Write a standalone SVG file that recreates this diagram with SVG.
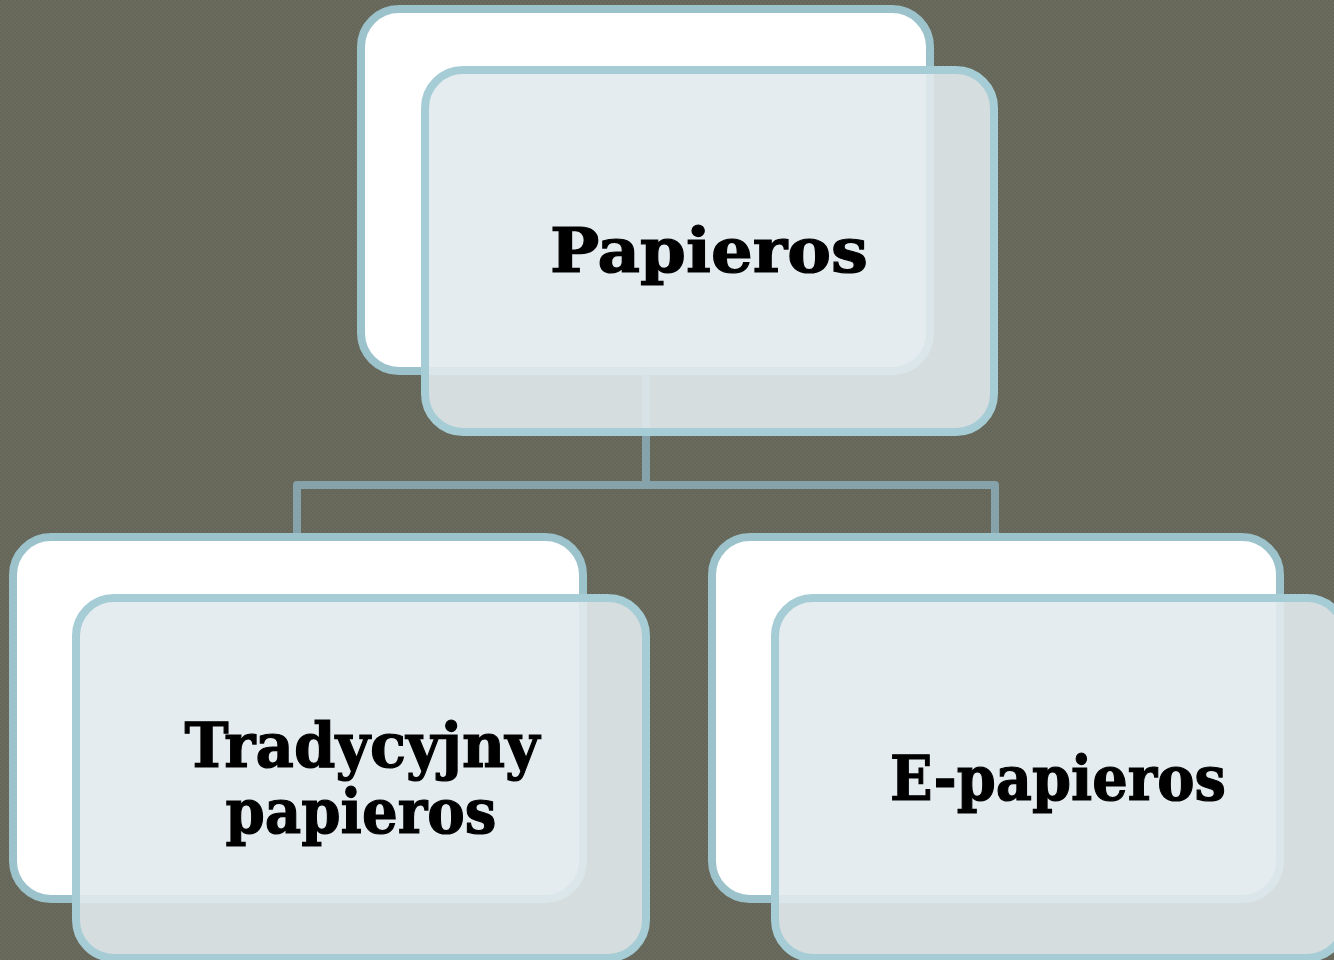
<svg xmlns="http://www.w3.org/2000/svg" width="1334" height="960" viewBox="0 0 1334 960">
<defs>
<pattern id="bg" width="4" height="4" patternUnits="userSpaceOnUse">
<rect width="4" height="4" fill="#6b6c5d"/>
<rect width="2" height="2" fill="#65665a"/>
<rect x="2" y="2" width="2" height="2" fill="#65665a"/>
</pattern>
</defs>
<style>
.back{fill:#ffffff;stroke:#9cc3cc;stroke-width:8}
.front{fill:#e1eaed;fill-opacity:0.9;stroke:#a6ccd6;stroke-width:8}
.conn{fill:none;stroke:#86a2aa;stroke-width:8;stroke-linejoin:round}
.lbl{font-family:"DejaVu Serif","Liberation Serif",serif;font-weight:bold;font-size:62px;fill:#000;stroke:#000;stroke-width:1.2;text-anchor:middle}
</style>
<rect width="1334" height="960" fill="url(#bg)"/>
<g id="connectors">
<path class="conn" d="M646 372 V485 M297 537 V485 H995 V537"/>
</g>
<g id="node-papieros">
<rect class="back" x="361" y="9" width="569" height="362" rx="38"/>
<rect class="front" x="425" y="70" width="569" height="362" rx="38"/>
<text class="lbl" x="709" y="272" font-size="68" textLength="318" lengthAdjust="spacingAndGlyphs">Papieros</text>
</g>
<g id="node-tradycyjny">
<rect class="back" x="13" y="537" width="570" height="362" rx="38"/>
<rect class="front" x="76" y="598" width="570" height="360" rx="38"/>
<text class="lbl" x="362" y="767" textLength="355" lengthAdjust="spacingAndGlyphs">Tradycyjny</text>
<text class="lbl" x="361" y="833" textLength="271" lengthAdjust="spacingAndGlyphs">papieros</text>
</g>
<g id="node-epapieros">
<rect class="back" x="712" y="537" width="568" height="362" rx="38"/>
<rect class="front" x="775" y="598" width="570" height="360" rx="38"/>
<text class="lbl" x="1058" y="800" textLength="336" lengthAdjust="spacingAndGlyphs">E-papieros</text>
</g>
</svg>
